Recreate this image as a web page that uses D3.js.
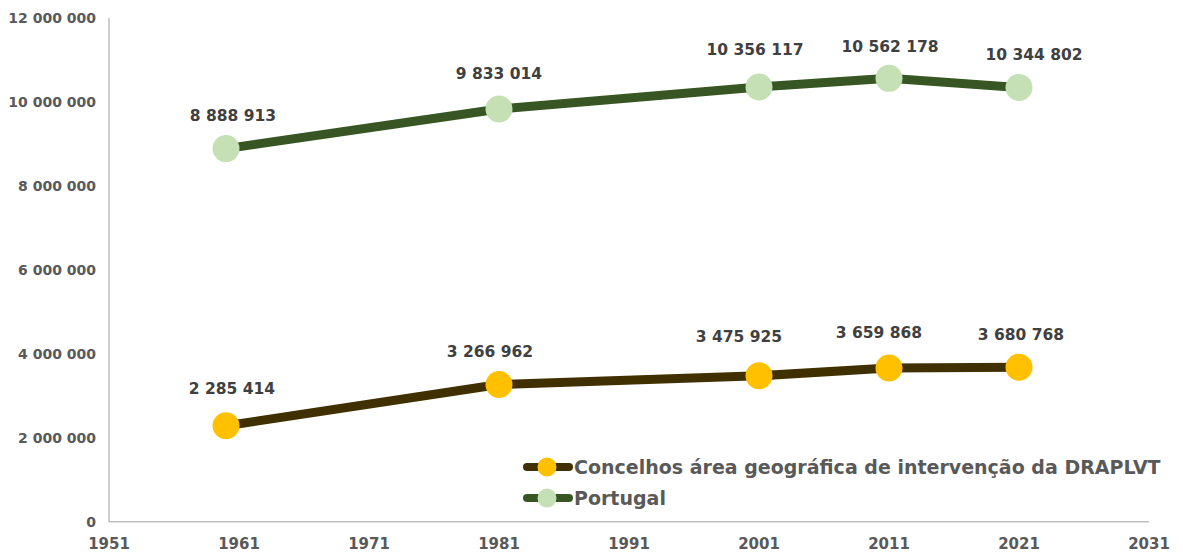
<!DOCTYPE html>
<html>
<head>
<meta charset="utf-8">
<script src="https://cdn.jsdelivr.net/npm/d3@7"></script>
<style>
  body { margin: 0; background: #fff; }
  svg text { font-family: "DejaVu Sans", Verdana, sans-serif; font-weight: bold; }
</style>
</head>
<body>
<div id="chart"></div>
<script>
// census years and population counts
const years = [1960, 1981, 2001, 2011, 2021];
const portugal = [8888913, 9833014, 10356117, 10562178, 10344802];
const concelhos = [2285414, 3266962, 3475925, 3659868, 3680768];
const xTicks = [1951, 1961, 1971, 1981, 1991, 2001, 2011, 2021, 2031];
const yTicks = [0, 2000000, 4000000, 6000000, 8000000, 10000000, 12000000];
const seriesNames = ["Concelhos área geográfica de intervenção da DRAPLVT", "Portugal"];

// label nudges (px) to mimic the hand placed labels
const portugalNudge = [[7, -28], [0, -30], [-4, -32], [1, -26], [15, -27]];
const concelhosNudge = [[6, -32], [-9, -28], [-20, -34], [-10, -30], [2, -27]];

const width = 1183, height = 557;
const svg = d3.select("#chart").append("svg")
    .attr("width", width)
    .attr("height", height);

const x = d3.scaleLinear().domain([1951, 2031]).range([109, 1149]);
const y = d3.scaleLinear().domain([0, 12000000]).range([521.7, 18]);

const fmt = v => d3.format(",")(v).replace(/,/g, " ");

// axis lines
svg.append("line")
    .attr("x1", x(1951)).attr("x2", x(1951))
    .attr("y1", y(12000000)).attr("y2", y(0))
    .attr("stroke", "#BFBFBF").attr("stroke-width", 1.5);
svg.append("line")
    .attr("x1", x(1951)).attr("x2", x(2031))
    .attr("y1", y(0)).attr("y2", y(0))
    .attr("stroke", "#BFBFBF").attr("stroke-width", 1.5);

// y tick labels
svg.append("g").selectAll("text")
    .data(yTicks)
    .enter()
    .append("text")
    .attr("x", 96)
    .attr("y", d => y(d))
    .attr("dy", "0.36em")
    .attr("text-anchor", "end")
    .attr("font-size", "14px")
    .attr("fill", "#595959")
    .text(d => fmt(d));

// x tick labels
svg.append("g").selectAll("text")
    .data(xTicks)
    .enter()
    .append("text")
    .attr("x", d => x(d))
    .attr("y", 549)
    .attr("text-anchor", "middle")
    .attr("font-size", "15px")
    .attr("fill", "#595959")
    .text(d => d);

const series = [
    { values: concelhos, line: "#403000", marker: "#FFC000", nudge: concelhosNudge },
    { values: portugal, line: "#375623", marker: "#C5E0B4", nudge: portugalNudge }
];

const lineGen = d3.line()
    .x((d, i) => x(years[i]))
    .y(d => y(d));

series.forEach(s => {
    svg.append("path")
        .datum(s.values)
        .attr("d", lineGen)
        .attr("fill", "none")
        .attr("stroke", s.line)
        .attr("stroke-width", 9)
        .attr("stroke-linejoin", "round");

    svg.append("g").selectAll("circle")
        .data(s.values)
        .enter()
        .append("circle")
        .attr("cx", (d, i) => x(years[i]))
        .attr("cy", d => y(d))
        .attr("r", 13.5)
        .attr("fill", s.marker);

    svg.append("g").selectAll("text")
        .data(s.values)
        .enter()
        .append("text")
        .attr("x", (d, i) => x(years[i]) + s.nudge[i][0])
        .attr("y", (d, i) => y(d) + s.nudge[i][1])
        .attr("text-anchor", "middle")
        .attr("font-size", "15.5px")
        .attr("fill", "#404040")
        .text(d => fmt(d));
});

// legend
const legend = svg.append("g");
series.forEach((s, i) => {
    const cy = 467 + i * 31;
    legend.append("line")
        .attr("x1", 527).attr("x2", 569)
        .attr("y1", cy).attr("y2", cy)
        .attr("stroke", s.line)
        .attr("stroke-width", 8)
        .attr("stroke-linecap", "round");
    legend.append("circle")
        .attr("cx", 547).attr("cy", cy)
        .attr("r", 9.5)
        .attr("fill", s.marker);
    legend.append("text")
        .attr("x", 574).attr("y", cy + 7)
        .attr("font-size", "19px")
        .attr("fill", "#595959")
        .text(seriesNames[i]);
});
</script>
</body>
</html>
